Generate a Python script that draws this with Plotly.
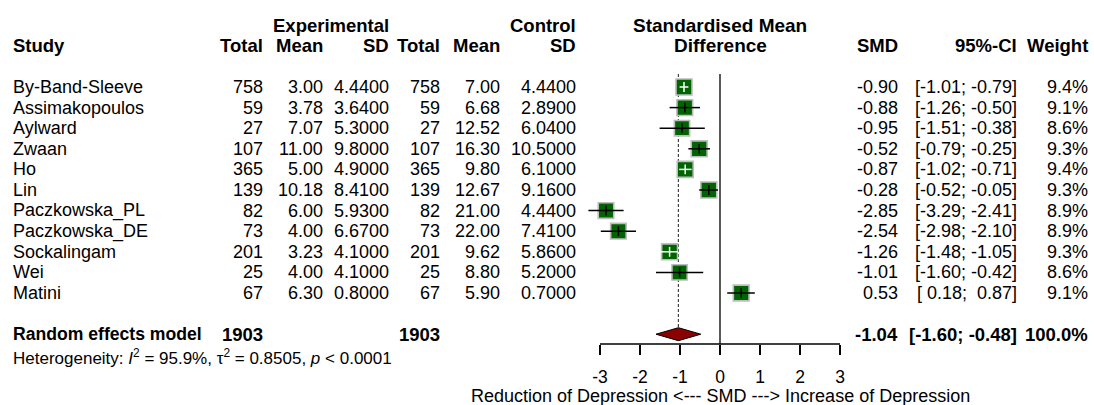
import plotly.graph_objects as go

# ---------------- data ----------------
studies = ["By-Band-Sleeve", "Assimakopoulos", "Aylward", "Zwaan", "Ho", "Lin",
           "Paczkowska_PL", "Paczkowska_DE", "Sockalingam", "Wei", "Matini"]
exp_n = [758, 59, 27, 107, 365, 139, 82, 73, 201, 25, 67]
exp_mean = [3.00, 3.78, 7.07, 11.00, 5.00, 10.18, 6.00, 4.00, 3.23, 4.00, 6.30]
exp_sd = [4.44, 3.64, 5.30, 9.80, 4.90, 8.41, 5.93, 6.67, 4.10, 4.10, 0.80]
ctl_n = [758, 59, 27, 107, 365, 139, 82, 73, 201, 25, 67]
ctl_mean = [7.00, 6.68, 12.52, 16.30, 9.80, 12.67, 21.00, 22.00, 9.62, 8.80, 5.90]
ctl_sd = [4.44, 2.89, 6.04, 10.50, 6.10, 9.16, 4.44, 7.41, 5.86, 5.20, 0.70]
smd = [-0.90, -0.88, -0.95, -0.52, -0.87, -0.28, -2.85, -2.54, -1.26, -1.01, 0.53]
ci_lo = [-1.01, -1.26, -1.51, -0.79, -1.02, -0.52, -3.29, -2.98, -1.48, -1.60, 0.18]
ci_hi = [-0.79, -0.50, -0.38, -0.25, -0.71, -0.05, -2.41, -2.10, -1.05, -0.42, 0.87]
weight = [9.4, 9.1, 8.6, 9.3, 9.4, 9.3, 8.9, 8.9, 9.3, 8.6, 9.1]

re_label = "Random effects model"
re_exp_n = 1903
re_ctl_n = 1903
re_smd = -1.04
re_lo = -1.60
re_hi = -0.48
re_weight = "100.0%"
het_text = ("Heterogeneity: <i>I</i><sup>2</sup> = 95.9%, "
            "\u03c4<sup>2</sup> = 0.8505, <i>p</i> &lt; 0.0001")

tick_vals = [-3, -2, -1, 0, 1, 2, 3]
tick_text = ["-3", "-2", "-1", "0", "1", "2", "3"]
x_title = "Reduction of Depression &lt;--- SMD ---&gt; Increase of Depression"

# ---------------- layout constants ----------------
W, H = 1094, 405
FONT = "Liberation Sans, Arial, sans-serif"
FS = 18       # regular text
FSB = 18.5    # bold text
PX_PER_UNIT = 40.0
X0 = 720.0                        # pixel of SMD = 0
x_range = [(0 - X0) / PX_PER_UNIT, (W - X0) / PX_PER_UNIT]

ROW0, ROW_STEP = 87.0, 20.6       # pixel of first study row, row spacing
AXIS = 344.0
y_top = (0 - ROW0) / ROW_STEP
y_bot = (AXIS - ROW0) / ROW_STEP
rows = list(range(len(studies)))
re_row = len(studies) + 1


def px(xp):          # x pixel -> paper
    return xp / W


def py(yp):          # y pixel -> paper
    return (H - yp) / H


def prow(yp):        # y pixel -> row coordinate
    return (yp - ROW0) / ROW_STEP


fig = go.Figure()

# squares
sizes = [16.0 * (w / max(weight)) ** 0.5 for w in weight]
fig.add_trace(go.Scatter(
    x=smd, y=rows, mode="markers", hoverinfo="skip",
    marker=dict(symbol="square", size=sizes, color="#006400", opacity=1,
                line=dict(color="#BDBDBD", width=1.6)),
    cliponaxis=False))

# CI lines: white if inside the square
inside = [(h - l) / 2 * PX_PER_UNIT < s / 2 + 1 for l, h, s in zip(ci_lo, ci_hi, sizes)]
for flag, col in [(False, "black"), (True, "white")]:
    xs, ys = [], []
    for i in rows:
        if inside[i] == flag:
            xs += [ci_lo[i], ci_hi[i], None]
            ys += [i, i, None]
    fig.add_trace(go.Scatter(x=xs, y=ys, mode="lines", hoverinfo="skip",
                             line=dict(color=col, width=1.5), cliponaxis=False))

# point-estimate ticks
fig.add_trace(go.Scatter(
    x=smd, y=rows, mode="markers", hoverinfo="skip",
    marker=dict(symbol="line-ns", size=7, opacity=1,
                line=dict(width=1.5, color=["white" if f else "black" for f in inside])),
    cliponaxis=False))

# diamond
dh = 6.5 / ROW_STEP
fig.add_trace(go.Scatter(
    x=[re_lo, re_smd, re_hi, re_smd, re_lo],
    y=[re_row, re_row - dh, re_row, re_row + dh, re_row],
    mode="lines", fill="toself", fillcolor="#8B0000",
    line=dict(color="black", width=1), hoverinfo="skip"))

shapes = [
    dict(type="line", xref="x", yref="y", x0=0, x1=0,
         y0=prow(74), y1=y_bot,
         line=dict(color="black", width=1.3), layer="below"),
    dict(type="line", xref="x", yref="y", x0=re_smd, x1=re_smd,
         y0=prow(74), y1=re_row,
         line=dict(color="#444444", width=1.2, dash="3px,2px"), layer="below"),
    dict(type="line", xref="x", yref="paper", x0=min(tick_vals), x1=max(tick_vals),
         y0=py(AXIS), y1=py(AXIS), line=dict(color="black", width=1.3)),
]

ann = []


def txt(text, xp, row, anchor="right", bold=False, size=None):
    if size is None:
        size = FSB if bold else FS
    if bold:
        text = "<b>" + text + "</b>"
    ann.append(dict(text=text, x=px(xp), xref="paper", y=row, yref="y",
                    xanchor=anchor, yanchor="middle", showarrow=False,
                    font=dict(family=FONT, size=size, color="black")))


# column right edges (px)
C_STUDY = 11
C_EN, C_EM, C_ES = 265, 325, 391
C_CN, C_CM, C_CS = 442, 502, 578
C_SMD, C_CI, C_W = 900, 1019, 1090

# headers
txt("Experimental", C_ES, -3, bold=True)
txt("Control", C_CS, -3, bold=True)
txt("Standardised Mean", X0, -3, anchor="center", bold=True, size=19)
txt("Study", C_STUDY, -2, anchor="left", bold=True)
for lab, c in [("Total", C_EN), ("Mean", C_EM), ("SD", C_ES),
               ("Total", C_CN), ("Mean", C_CM), ("SD", C_CS),
               ("SMD", C_SMD), ("95%-CI", C_CI), ("Weight", C_W)]:
    txt(lab, c, -2, bold=True)
txt("Difference", X0, -2, anchor="center", bold=True, size=19)


def fmt(v, d):
    s = f"{v:.{d}f}"
    return s if v < 0 else "\u00a0" + s


for i in rows:
    txt(studies[i], C_STUDY, i, anchor="left")
    txt(str(exp_n[i]), C_EN, i)
    txt(f"{exp_mean[i]:.2f}", C_EM, i)
    txt(f"{exp_sd[i]:.4f}", C_ES, i)
    txt(str(ctl_n[i]), C_CN, i)
    txt(f"{ctl_mean[i]:.2f}", C_CM, i)
    txt(f"{ctl_sd[i]:.4f}", C_CS, i)
    txt(f"{smd[i]:.2f}", C_SMD, i)
    txt(f"[{fmt(ci_lo[i], 2)};\u00a0{fmt(ci_hi[i], 2)}]", C_CI, i)
    txt(f"{weight[i]:.1f}%", C_W, i)

txt(re_label, C_STUDY, re_row, anchor="left", bold=True, size=17.6)
txt(str(re_exp_n), C_EN, re_row, bold=True)
txt(str(re_ctl_n), C_CN, re_row, bold=True)
txt(f"{re_smd:.2f}", C_SMD, re_row, bold=True)
txt(f"[{re_lo:.2f};\u00a0{re_hi:.2f}]", C_CI, re_row, bold=True)
txt(re_weight, C_W, re_row, bold=True)

ann.append(dict(text=het_text, x=px(C_STUDY), xref="paper", y=py(357), yref="paper",
                xanchor="left", yanchor="middle", showarrow=False,
                font=dict(family=FONT, size=17, color="black")))
ann.append(dict(text=x_title, x=0, xref="x", y=py(396), yref="paper",
                xanchor="center", yanchor="middle", showarrow=False, borderpad=0,
                font=dict(family=FONT, size=FS, color="black")))

fig.update_layout(
    width=W, height=H, margin=dict(l=0, r=0, t=0, b=0),
    paper_bgcolor="white", plot_bgcolor="white", showlegend=False,
    font=dict(family=FONT, size=FS, color="black"),
    xaxis=dict(domain=[0, 1], range=x_range, tickvals=tick_vals, ticktext=tick_text,
               ticks="outside", ticklen=10, tickwidth=1.3, tickcolor="black",
               showgrid=False, zeroline=False, showline=False,
               tickfont=dict(family=FONT, size=17.5, color="black"),
               ticklabelstandoff=7, fixedrange=True),
    yaxis=dict(domain=[py(AXIS), 1], range=[y_bot, y_top], visible=False,
               fixedrange=True),
    shapes=shapes, annotations=ann,
)

fig.write_html(
    "out.html",
    config={"displayModeBar": False, "staticPlot": True},
    post_script="document.body.style.margin='0';document.body.style.overflow='hidden';",
)
